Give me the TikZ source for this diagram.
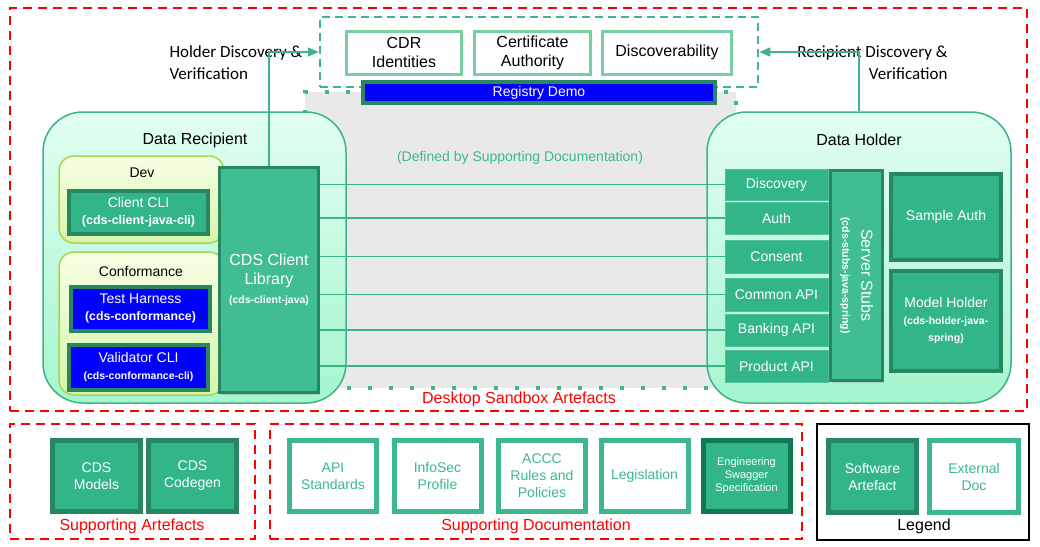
\documentclass[tikz,border=0pt]{standalone}
\usepackage{fontspec}
\setmainfont{Liberation Sans}
\newfontfamily\notefont{Carlito}
\usetikzlibrary{arrows.meta}
\usetikzlibrary{shadows}

\definecolor{sbred}{RGB}{255,0,0}
\definecolor{swgreen}{RGB}{50,182,136}
\definecolor{swedge}{RGB}{40,134,98}
\definecolor{specedge}{RGB}{14,122,80}
\definecolor{libgreen}{RGB}{64,190,145}
\definecolor{regedge}{RGB}{122,206,160}
\definecolor{docgreen}{RGB}{60,184,138}
\definecolor{linkgreen}{RGB}{60,180,135}
\definecolor{partytop}{RGB}{226,255,240}
\definecolor{partybot}{RGB}{165,245,208}
\definecolor{devtop}{RGB}{246,255,228}
\definecolor{devbot}{RGB}{214,245,170}
\definecolor{devedge}{RGB}{168,212,80}
\definecolor{sharedgray}{RGB}{233,233,233}
\definecolor{confblue}{RGB}{0,0,255}

\newcommand{\pkg}[2][10.5]{{\fontsize{#1}{13}\selectfont\bfseries #2}}

\begin{document}
\begin{tikzpicture}[x=1pt,y=-1pt]

\tikzset{
    dims/.style 2 args={minimum width=#1pt,minimum height=#2pt},
    sandbox/.style={draw=sbred,line width=2.5pt,dash pattern=on 9pt off 6pt,inner sep=0pt},
    legendbox/.style={draw=black,line width=2pt,inner sep=0pt},
    regbox/.style={draw=docgreen,line width=2.5pt,dash pattern=on 8pt off 5pt,inner sep=0pt},
    sharedarea/.style={fill=sharedgray,draw=docgreen,line width=4pt,dash pattern=on 4pt off 17pt,inner sep=0pt},
    regitem/.style={draw=regedge,line width=3pt,fill=white,align=center,inner sep=0pt,font=\fontsize{16}{19}\selectfont},
    party/.style={draw=linkgreen,line width=1.5pt,rounded corners=40pt,top color=partytop,bottom color=partybot,inner sep=0pt},
    subgroup/.style={draw=devedge,line width=1.5pt,rounded corners=15pt,top color=devtop,bottom color=devbot,inner sep=0pt},
    softbox/.style={draw=swedge,line width=4pt,fill=swgreen,text=white,align=center,inner sep=0pt,
        font=\fontsize{14}{17}\selectfont,drop shadow={shadow xshift=1.5pt,shadow yshift=-2pt,opacity=0.3}},
    confbox/.style={softbox,fill=confblue},
    apibox/.style={draw=swgreen!85!white,line width=0.8pt,fill=swgreen,text=white,inner sep=0pt,
        font=\fontsize{14}{17}\selectfont},
    docbox/.style={draw=docgreen,line width=5pt,fill=white,text=docgreen,align=center,inner sep=0pt,
        font=\fontsize{14}{17}\selectfont},
    conn/.style={draw=linkgreen,line width=1.5pt},
    edge/.style={conn,->,>={Triangle[length=11pt,width=9pt]}}
}
% variables
\def\labelsize{\fontsize{16}{19}\selectfont}
\def\notesize{\notefont\fontsize{17}{22}\selectfont}
\def\apix{776.5}

\useasboundingbox (0,0) rectangle (1040,546);

% ----------- desktop sandbox ----------- %
\node[sandbox,dims={1017}{403}] (desktop) at (518.5,209.5) {};
\node[text=sbred,font=\labelsize] (desktoplbl) at (519,399) {Desktop Sandbox Artefacts};
\node[sharedarea,dims={431}{296}] (shared) at (520.5,240) {};
\node[text=docgreen,font=\fontsize{14}{17}\selectfont] (sharedlbl) at (520,158) {(Defined by Supporting Documentation)};

% registry
\node[regbox,dims={438}{70}] (registry) at (539,52) {};
\node[regitem,dims={115}{43}] (cdr) at (404,52.5) {CDR\\Identities};
\node[regitem,dims={116}{43}] (certauth) at (532.5,52.5) {Certificate\\Authority};
\node[regitem,dims={129}{43}] (discov) at (667,52.5) {Discoverability};
\node[confbox,dims={352}{21}] (regdemo) at (539,92.5) {Registry Demo};

% ------------ DATA RECIPIENT ---------%
\node[party,dims={303}{291}] (recipient) at (194.5,257.5) {};
\node[font=\labelsize] (recipientlbl) at (195,140) {Data Recipient};
\node[subgroup,dims={165}{87}] (dev) at (141.5,199.5) {};
\node[font=\fontsize{14}{17}\selectfont] (devlbl) at (142,173) {Dev};
\node[softbox,dims={139}{43}] (clientcli) at (138.5,212) {Client CLI\\\pkg[12.5]{(cds-client-java-cli)}};
\node[subgroup,dims={165}{143}] (conf) at (141.5,323.5) {};
\node[font=\fontsize{14}{17}\selectfont] (conflbl) at (141,271) {Conformance};
\node[confbox,dims={139}{44}] (harness) at (140.5,308.5) {Test Harness\\\pkg[12.3]{(cds-conformance)}};
\node[confbox,dims={139}{45}] (validator) at (138.5,367.5) {Validator CLI\\\pkg{(cds-conformance-cli)}};
\node[softbox,fill=libgreen,line width=3pt,dims={99}{225},font=\fontsize{16}{19}\selectfont] (cdslib) at (269,280)
    {CDS Client\\Library\\\pkg{(cds-client-java)}};

% ------------ DATA HOLDER ---------%
\node[party,dims={304}{291}] (holder) at (859,257.5) {};
\node[font=\labelsize] (holderlbl) at (859,140) {Data Holder};
\node[apibox,dims={103}{31}] (apidisc) at (\apix,184.5) {Discovery};
\node[apibox,dims={103}{32}] (apiauth) at (\apix,218) {Auth};
\node[apibox,dims={103}{33}] (apiconsent) at (\apix,256.5) {Consent};
\node[apibox,dims={103}{33}] (apicommon) at (\apix,294.5) {Common API};
\node[apibox,dims={103}{32}] (apibanking) at (\apix,330) {Banking API};
\node[apibox,dims={103}{32}] (apiproduct) at (\apix,366) {Product API};
\node[softbox,fill=libgreen,line width=3pt,rotate=-90,dims={210}{52},font=\fontsize{16}{19}\selectfont] (stubs) at (856.5,275.5)
    {Server Stubs\\\pkg{(cds-stubs-java-spring)}};
\node[softbox,dims={110}{86}] (sampleauth) at (946,217) {Sample Auth};
\node[softbox,dims={110}{100}] (modelholder) at (946,321) {Model Holder\\\pkg{(cds-holder-java-}\\\pkg{spring)}};

% discovery edges
\node[align=left,anchor=west,font=\notesize] (holderdisc) at (166,63) {Holder Discovery \&\\Verification};
\node[align=right,anchor=east,font=\notesize] (recipdisc) at (951,63) {Recipient Discovery \&\\Verification};
\draw[edge] (cdslib.north) |- (registry.west);
\draw[edge] (holder.north) |- (registry.east);

% api edges
\draw[conn] (cdslib.east |- apidisc.west) -- (apidisc.west);
\draw[conn] (cdslib.east |- apiauth.west) -- (apiauth.west);
\draw[conn] (cdslib.east |- apiconsent.west) -- (apiconsent.west);
\draw[conn] (cdslib.east |- apicommon.west) -- (apicommon.west);
\draw[conn] (cdslib.east |- apibanking.west) -- (apibanking.west);
\draw[conn] (cdslib.east |- apiproduct.west) -- (apiproduct.west);

% ----------- supporting artefacts ----------- %
\node[sandbox,dims={245}{115}] (suppart) at (132.5,481.5) {};
\node[text=sbred,font=\labelsize] (suppartlbl) at (132,526) {Supporting Artefacts};
\node[softbox,line width=5pt,dims={88}{71}] (models) at (96.5,476) {CDS\\Models};
\node[softbox,line width=5pt,dims={88}{71}] (codegen) at (192.5,476) {CDS\\Codegen};

% ----------- supporting documentation ----------- %
\node[sandbox,dims={532}{115}] (suppdoc) at (536,481.5) {};
\node[text=sbred,font=\labelsize] (suppdoclbl) at (536,526) {Supporting Documentation};
\node[docbox,dims={87}{71}] (apistd) at (333,476) {API\\Standards};
\node[docbox,dims={87}{71}] (infosec) at (437.5,476) {InfoSec\\Profile};
\node[docbox,dims={87}{71}] (accc) at (542,476) {ACCC\\Rules and\\Policies};
\node[docbox,dims={87}{71}] (legis) at (644.5,476) {Legislation};
\node[docbox,draw=specedge,fill=swgreen,text=white,dims={87}{71},font=\fontsize{11}{13}\selectfont] (swagger) at (746.5,476)
    {Engineering\\Swagger\\Specification};

% ----------- legend ----------- %
\node[legendbox,dims={212}{116}] (legend) at (923,482) {};
\node[font=\labelsize] (legendlbl) at (924,526) {Legend};
\node[softbox,line width=5pt,dims={88}{72}] (softart) at (872.5,476.5) {Software\\Artefact};
\node[docbox,dims={89}{72}] (extdoc) at (974,476.5) {External\\Doc};

\end{tikzpicture}
\end{document}
